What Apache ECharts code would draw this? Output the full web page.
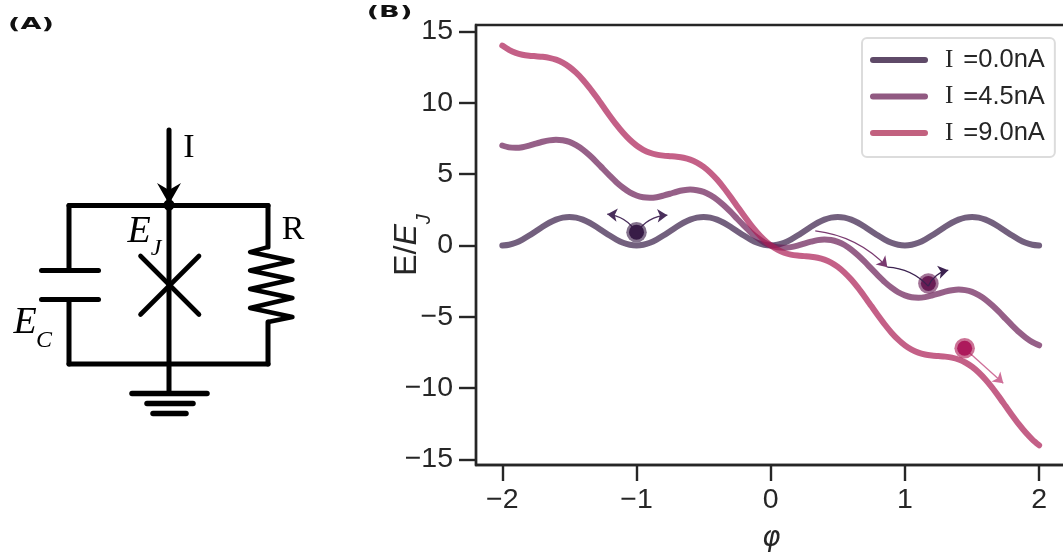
<!DOCTYPE html>
<html><head><meta charset="utf-8">
<style>html,body{margin:0;padding:0;background:#fff;overflow:hidden}#c{width:1063px;height:556px}</style>
<script src="https://cdn.jsdelivr.net/npm/echarts@6/dist/echarts.min.js"></script>
</head><body><div id="c"></div>
<script>
const phi=[-2,-1.95,-1.9,-1.85,-1.8,-1.75,-1.7,-1.65,-1.6,-1.55,-1.5,-1.45,-1.4,-1.35,-1.3,-1.25,-1.2,-1.15,-1.1,-1.05,-1,-0.95,-0.9,-0.85,-0.8,-0.75,-0.7,-0.65,-0.6,-0.55,-0.5,-0.45,-0.4,-0.35,-0.3,-0.25,-0.2,-0.15,-0.1,-0.05,0,0.05,0.1,0.15,0.2,0.25,0.3,0.35,0.4,0.45,0.5,0.55,0.6,0.65,0.7,0.75,0.8,0.85,0.9,0.95,1,1.05,1.1,1.15,1.2,1.25,1.3,1.35,1.4,1.45,1.5,1.55,1.6,1.65,1.7,1.75,1.8,1.85,1.9,1.95,2];
const energy0=[0,.05,.19,.41,.69,1,1.31,1.59,1.81,1.95,2,1.95,1.81,1.59,1.31,1,.69,.41,.19,.05,0,.05,.19,.41,.69,1,1.31,1.59,1.81,1.95,2,1.95,1.81,1.59,1.31,1,.69,.41,.19,.05,0,.05,.19,.41,.69,1,1.31,1.59,1.81,1.95,2,1.95,1.81,1.59,1.31,1,.69,.41,.19,.05,0,.05,.19,.41,.69,1,1.31,1.59,1.81,1.95,2,1.95,1.81,1.59,1.31,1,.69,.41,.19,.05,0];
const energy45=[7,6.87,6.84,6.88,6.99,7.13,7.26,7.36,7.41,7.37,7.25,7.02,6.71,6.31,5.86,5.37,4.89,4.43,4.04,3.72,3.5,3.37,3.34,3.38,3.49,3.62,3.76,3.86,3.91,3.87,3.75,3.52,3.21,2.81,2.36,1.87,1.39,.93,.54,.22,0,-.13,-.16,-.12,-.01,.13,.26,.37,.41,.38,.25,.03,-.29,-.69,-1.14,-1.63,-2.11,-2.57,-2.96,-3.28,-3.5,-3.63,-3.66,-3.62,-3.51,-3.38,-3.24,-3.14,-3.09,-3.13,-3.25,-3.48,-3.79,-4.19,-4.64,-5.13,-5.61,-6.07,-6.46,-6.78,-7];
const energy90=[14,13.7,13.49,13.36,13.29,13.25,13.21,13.14,13.01,12.8,12.5,12.1,11.61,11.04,10.41,9.75,9.09,8.46,7.89,7.4,7,6.7,6.49,6.36,6.29,6.25,6.21,6.14,6.01,5.8,5.5,5.1,4.61,4.04,3.41,2.75,2.09,1.46,.89,.4,0,-.3,-.51,-.64,-.71,-.75,-.79,-.86,-.99,-1.2,-1.5,-1.9,-2.39,-2.96,-3.59,-4.25,-4.91,-5.54,-6.11,-6.6,-7,-7.3,-7.51,-7.64,-7.71,-7.75,-7.79,-7.86,-7.99,-8.2,-8.5,-8.9,-9.39,-9.96,-10.59,-11.25,-11.91,-12.54,-13.11,-13.6,-14];
const seriesNames=['I =0.0nA','I =4.5nA','I =9.0nA'];
const xTicks=[-2,-1,0,1,2];
const yTicks=[-15,-10,-5,0,5,10,15];
const balls=[[-1,0.93],[1.175,-2.66],[1.445,-7.2]];
const underArrows=[
 [[-1,0.88],[-1.218,2.19]],
 [[-1,0.88],[-0.77,2.12]],
 [[0.332,1.02],[0.869,-1.52]],
 [[1.443,-7.2],[1.733,-9.65]]
];
const overArrow=[[0.869,-1.52],[1.174,-2.85]];
const overArrowTip=[[1.174,-2.85],[1.323,-1.73]];

const colors=['#381c47','#691c55','#ab1c54'];
const legendColors=['#5f4a68','#915a82','#c2617f'];
const ink='#262626', wire='#000';
const fmt=v=>String(v).replace('-','\u2212');
const zip=ys=>phi.map((p,i)=>[p,ys[i]]);
const lineSeries=(i,ys)=>({type:'line',name:seriesNames[i],data:zip(ys),showSymbol:false,smooth:0.25,silent:true,z:2+i,
  lineStyle:{color:colors[i],opacity:0.7,width:6,cap:'round',join:'round'},itemStyle:{color:colors[i]}});
const ln=(x1,y1,x2,y2,w,cap)=>({type:'line',shape:{x1,y1,x2,y2},style:{stroke:wire,lineWidth:w||5,lineCap:cap||'round'}});
const txt=(x,y,t,size,style,extra)=>Object.assign({type:'text',x,y,style:{text:t,fill:wire,font:`${style||''} ${size}px "Liberation Serif"`,align:'center',verticalAlign:'middle'}},extra||{});
const panel=(x,y,t)=>({type:'text',x,y,scaleX:1.65,originX:0,style:{text:t,fill:'#111',font:'bold 16.5px "DejaVu Sans"',align:'center',verticalAlign:'middle'}});

const circuit=[
 ln(169,130,169,393),
 ln(69,205.5,268,205.5),
 ln(69,205.5,69,268),ln(69,300,69,364),
 ln(69,364,268,364),
 ln(41.5,270.5,98.5,270.5),ln(41.5,299.5,98.5,299.5),
 ln(268,205.5,268,247),ln(268,322,268,364),
 {type:'polyline',shape:{points:[[268,247],[250,252],[292.5,261],[250,270.5],[292.5,279.5],[250,289],[292.5,298],[250,308],[292.5,317],[268,322]]},style:{stroke:wire,fill:'none',lineWidth:4.4,lineJoin:'round'}},
 ln(140.5,256,199,314.5,4.6),ln(199,256,140.5,314.5,4.6),
 ln(132,393.5,207,393.5,5.5),ln(147,403.5,193,403.5,5.5),ln(153,413.5,186,413.5,5.5),
 {type:'polygon',shape:{points:[[157,183],[169,190],[181,183],[169,204]]},style:{fill:wire}},
 {type:'circle',shape:{cx:169,cy:205,r:5.5},style:{fill:wire}},
 txt(189,148,'I',34),txt(293,230,'R',34),
 txt(139,232,'E',38,'italic'),txt(156,249,'J',24,'italic'),
 txt(25,323,'E',38,'italic'),txt(44,341,'C',24,'italic'),
 panel(31,25,'(A)'),panel(389.5,13,'(B)')
];
const arrowLine=(coords,color,curveness,symbol)=>({coords,symbol:symbol||['none','arrow'],lineStyle:{color,width:1.3,opacity:1,curveness}});

const option={
 animation:false,backgroundColor:'#fff',
 grid:{left:476,top:25,width:590.5,height:440,outerBoundsMode:'none',containLabel:false,show:true,borderColor:ink,borderWidth:2.4,backgroundColor:'transparent'},
 xAxis:{type:'value',min:-2.196,max:2.204,name:'\u03c6',nameLocation:'middle',nameGap:60,nameMoveOverlap:false,
  nameTextStyle:{fontFamily:'DejaVu Sans',fontStyle:'italic',fontSize:28,color:ink},
  axisLine:{onZero:false,lineStyle:{color:ink,width:2.4}},splitLine:{show:false},
  axisTick:{length:16,lineStyle:{color:ink,width:2.4},customValues:xTicks},
  axisLabel:{customValues:xTicks,formatter:fmt,color:ink,fontFamily:'Liberation Sans',fontSize:28.5,margin:21}},
 yAxis:{type:'value',min:-15.38,max:15.44,name:'{a|E/}{b|E}{c|J}',nameLocation:'middle',nameGap:42,nameRotate:90,nameMoveOverlap:false,
  nameTextStyle:{rich:{a:{fontFamily:'Liberation Sans',fontSize:32,color:ink,padding:[0,0,11,0]},b:{fontFamily:'Liberation Sans',fontStyle:'italic',fontSize:32,color:ink,padding:[0,0,11,0]},c:{fontFamily:'Liberation Sans',fontStyle:'italic',fontSize:20,color:ink,verticalAlign:'bottom'}}},
  axisLine:{onZero:false,lineStyle:{color:ink,width:2.4}},splitLine:{show:false},
  axisTick:{length:17,lineStyle:{color:ink,width:2.4},customValues:yTicks},
  axisLabel:{customValues:yTicks,formatter:fmt,color:ink,fontFamily:'Liberation Sans',fontSize:28.5,margin:23}},
 legend:{left:862,top:38,orient:'vertical',selectedMode:false,icon:'path://M3 0H55A3 3 0 0 1 55 6H3A3 3 0 0 1 3 0Z',itemWidth:58,itemHeight:6.5,itemGap:10.5,
  padding:[9,10,11,8],borderColor:'#dcdcdc',borderWidth:2,borderRadius:5,backgroundColor:'#fff',
  data:seriesNames.map((n,i)=>({name:n,itemStyle:{color:legendColors[i]}})),
  formatter:n=>{const p=n.split(' ');return `{i|${p[0]}}{t|${p[1]}}`;},
  textStyle:{padding:[0,0,0,12],rich:{i:{fontFamily:'Liberation Serif',fontSize:25,color:ink,lineHeight:28,padding:[0,10,0,0]},t:{fontFamily:'Liberation Sans',fontSize:25.5,color:ink,lineHeight:28}}}},
 graphic:circuit,
 series:[
  lineSeries(0,energy0),lineSeries(1,energy45),lineSeries(2,energy90),
  {type:'lines',coordinateSystem:'cartesian2d',silent:true,z:5,symbol:['none','arrow'],symbolSize:10,
   data:[arrowLine(underArrows[0],'#4a2f5c',-0.25),arrowLine(underArrows[1],'#4a2f5c',0.25),arrowLine(underArrows[2],'#7a3a70',0.18),arrowLine(underArrows[3],'#cf7099',0)]},
  {type:'scatter',symbolSize:20.5,silent:true,z:6,data:balls.map((b,i)=>({value:b,itemStyle:{color:colors[i],opacity:0.62}}))},
  {type:'scatter',symbolSize:15,silent:true,z:7,data:balls.map((b,i)=>({value:b,itemStyle:{color:[colors[0],colors[1],'#ad1a5c'][i],opacity:1}}))},
  {type:'lines',coordinateSystem:'cartesian2d',silent:true,z:8,symbol:['none','arrow'],symbolSize:10,
   data:[arrowLine(overArrow,'#3c2250',0.2,['none','none']),arrowLine(overArrowTip,'#3c2250',0.25)]}
 ]
};
echarts.init(document.getElementById('c'),null,{renderer:'canvas'}).setOption(option);
</script></body></html>
